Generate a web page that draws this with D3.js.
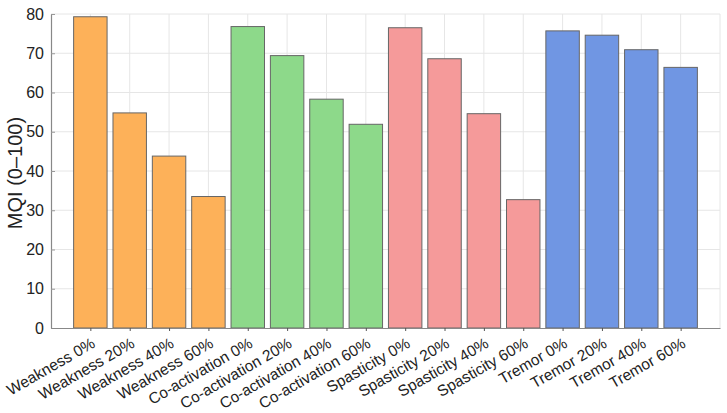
<!DOCTYPE html>
<html>
<head>
<meta charset="utf-8">
<script src="https://cdn.jsdelivr.net/npm/d3@7"></script>
<style>
  body { margin: 0; background: #fff; }
  text { font-family: "Liberation Sans", Arial, sans-serif; fill: #222; }
</style>
</head>
<body>
<div id="chart"></div>
<script>
const categories = [
    "Weakness 0%", "Weakness 20%", "Weakness 40%", "Weakness 60%",
    "Co-activation 0%", "Co-activation 20%", "Co-activation 40%", "Co-activation 60%",
    "Spasticity 0%", "Spasticity 20%", "Spasticity 40%", "Spasticity 60%",
    "Tremor 0%", "Tremor 20%", "Tremor 40%", "Tremor 60%"
]
const groups = ["Weakness", "Co-activation", "Spasticity", "Tremor"]
const mqiValues = [79.3, 54.8, 43.8, 33.5, 76.8, 69.4, 58.3, 51.9, 76.5, 68.6, 54.6, 32.7, 75.7, 74.6, 70.9, 66.4]
const groupColors = ["#FDB159", "#8DD98A", "#F59A9A", "#7096E3"]
const yTicks = [0, 10, 20, 30, 40, 50, 60, 70, 80]

const W = 727, H = 413
const margin = { top: 14, right: 7, bottom: 85, left: 51 }
const width = W - margin.left - margin.right
const height = H - margin.top - margin.bottom

const svg = d3.select("#chart").append("svg")
    .attr("width", W)
    .attr("height", H)

const g = svg.append("g")
    .attr("transform", "translate(" + margin.left + "," + margin.top + ")")

const x = d3.scaleLinear().domain([-1, categories.length]).range([0, width])
const y = d3.scaleLinear().domain([0, 80]).range([height, 0])
const color = d3.scaleOrdinal().domain(groups).range(groupColors)
const barW = (x(1) - x(0)) * 0.85

// grid
g.append("g").selectAll("line").data(yTicks.slice(1)).enter().append("line")
    .attr("x1", 0).attr("x2", width)
    .attr("y1", d => y(d)).attr("y2", d => y(d))
    .attr("stroke", "#e6e6e6").attr("stroke-width", 1)
g.append("g").selectAll("line").data(d3.range(0, categories.length + 1)).enter().append("line")
    .attr("x1", d => x(d)).attr("x2", d => x(d))
    .attr("y1", 0).attr("y2", height)
    .attr("stroke", "#e6e6e6").attr("stroke-width", 1)

// bars
g.append("g").selectAll("rect").data(categories).enter().append("rect")
    .attr("x", (d, i) => x(i) - barW / 2)
    .attr("y", (d, i) => y(mqiValues[i]))
    .attr("width", barW)
    .attr("height", (d, i) => y(0) - y(mqiValues[i]))
    .attr("fill", d => color(d.split(" ")[0]))
    .attr("stroke", "#666")
    .attr("stroke-width", 1)

// y axis
const yAxis = g.append("g")
    .call(d3.axisLeft(y).tickValues(yTicks).tickSizeInner(-4).tickSizeOuter(0).tickPadding(7))
yAxis.select(".domain").attr("stroke", "#888").attr("stroke-width", 1.2)
yAxis.selectAll(".tick line").attr("stroke", "#999")
yAxis.selectAll("text").attr("font-size", 16).attr("fill", "#222")
    .style("font-family", "Liberation Sans, Arial, sans-serif")

// x axis
const xAxis = g.append("g")
    .attr("transform", "translate(0," + height + ")")
    .call(d3.axisBottom(x).tickValues(d3.range(categories.length)).tickSize(3).tickSizeOuter(0).tickFormat(i => categories[i]))
xAxis.select(".domain").attr("stroke", "#888").attr("stroke-width", 1.2)
xAxis.selectAll(".tick line").attr("stroke", "#555")
xAxis.selectAll("text")
    .attr("font-size", 15.5)
    .attr("fill", "#222")
    .style("font-family", "Liberation Sans, Arial, sans-serif")
    .attr("text-anchor", "end")
    .attr("x", 0).attr("y", 0).attr("dy", "0.7em")
    .attr("transform", "translate(0,9) rotate(-30)")

// y label
svg.append("text")
    .attr("transform", "translate(22," + (margin.top + height / 2 + 2) + ") rotate(-90)")
    .attr("text-anchor", "middle")
    .attr("font-size", 20)
    .text("MQI (0\u2013100)")
</script>
</body>
</html>
